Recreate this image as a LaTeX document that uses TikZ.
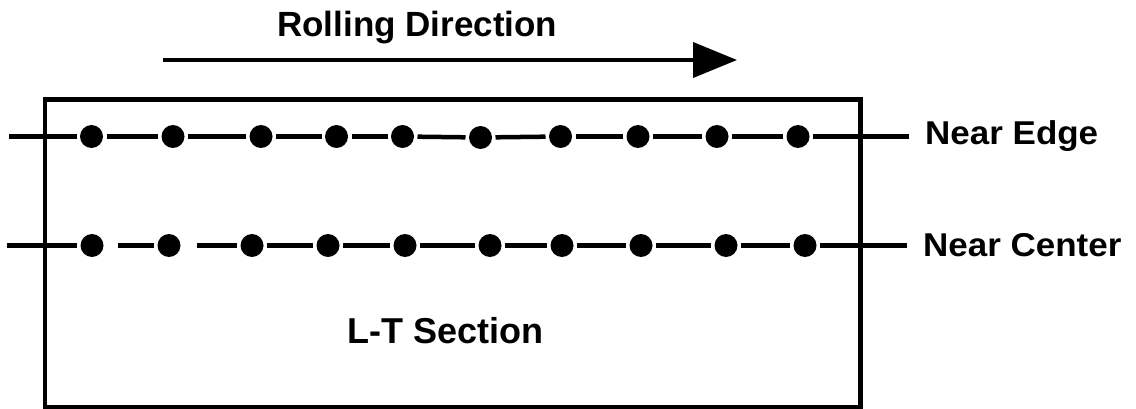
\documentclass[tikz,border=0pt]{standalone}
\usepackage{fontspec}
\setmainfont{Liberation Sans}
\usetikzlibrary{arrows.meta}
\begin{document}
\begin{tikzpicture}[x=1pt,y=-1pt,
  dot/.style={circle,fill=black,inner sep=0pt,minimum size=23pt,outer sep=3.5pt},
  seg/.style={line width=4.5pt},
  lbl/.style={font=\bfseries\fontsize{33}{38}\selectfont,inner sep=0pt,anchor=base west,xscale=1.06},
  frame/.style={draw,line width=4.5pt,inner sep=0pt,anchor=north west}]
\useasboundingbox[fill=white] (0,0) rectangle (1136,409);
% section rectangle
\node[frame,minimum width=815.5pt,minimum height=307.5pt] (sec) at (42.5,97.5) {};
% rolling direction
\coordinate (rs) at (163,60);
\coordinate (re) at (737,60);
\draw[line width=4pt,-{Triangle[length=44pt,width=35pt]}] (rs) -- (re);
\node[font=\bfseries\fontsize{35}{40}\selectfont,inner sep=0pt,anchor=base west] (rd) at (277,37) {Rolling Direction};
% near edge line
\coordinate (eL) at (9,136.5);
\coordinate (eR) at (909,136.5);
\foreach \i/\x/\y in {1/91.5/136.5,2/173/136.5,3/261/136.5,4/336.5/136.5,5/402.5/136.5,6/480.5/137.5,7/560.5/136.5,8/638/136.5,9/717/136.5,10/798/136.5}
  \node[dot] (e\i) at (\x,\y) {};
\draw[seg] (eL) -- (e1);
\foreach \i/\j in {1/2,2/3,3/4,4/5,5/6,6/7,7/8,8/9,9/10}
  \draw[seg] (e\i) -- (e\j);
\draw[seg] (e10) -- (eR);
\node[lbl] (ne) at (925,145) {Near Edge};
% near center line
\coordinate (cL) at (7,245.5);
\coordinate (cR) at (907,245.5);
\foreach \i/\x in {1/92,2/169,3/252,4/328,5/405,6/490,7/562,8/641,9/726,10/805}
  \node[dot] (c\i) at (\x,245.5) {};
\draw[seg] (cL) -- (c1);
\draw[seg,shorten <=11pt] (c1) -- (c2);
\draw[seg,shorten <=13pt] (c2) -- (c3);
\foreach \i/\j in {3/4,4/5,5/6,6/7,7/8,8/9,9/10}
  \draw[seg] (c\i) -- (c\j);
\draw[seg] (c10) -- (cR);
\node[lbl] (nc) at (923,256) {Near Center};
% section label
\node[font=\bfseries\fontsize{36}{42}\selectfont,inner sep=0pt,anchor=base west] (lt) at (347,343) {L-T Section};
\end{tikzpicture}
\end{document}
